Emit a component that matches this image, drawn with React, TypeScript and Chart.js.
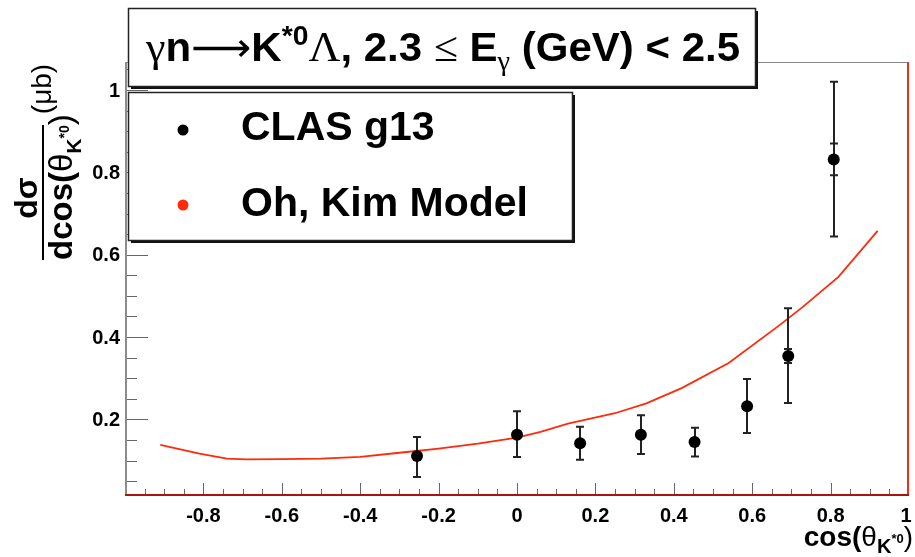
import React, { useEffect, useRef } from "react";
import { Chart, registerables } from "chart.js";

Chart.register(...registerables);

// ---- data ----
const clasX = [-0.255, 0.0, 0.161, 0.316, 0.453, 0.587, 0.692, 0.808];
const clasY = [0.111, 0.163, 0.142, 0.163, 0.145, 0.232, 0.354, 0.831];
const clasErrLow = [0.06, 0.109, 0.102, 0.116, 0.11, 0.167, 0.24, 0.644];
const clasErrHigh = [0.157, 0.22, 0.182, 0.21, 0.18, 0.298, 0.47, 1.02];
const clasStatLow: (number | null)[] = [null, null, null, null, null, null, 0.337, 0.793];
const clasStatHigh: (number | null)[] = [null, null, null, null, null, null, 0.371, 0.87];

const modelX = [-0.91, -0.81, -0.74, -0.69, -0.6, -0.5, -0.4, -0.3, -0.2, -0.1, 0.0, 0.06, 0.13, 0.25, 0.33, 0.42, 0.54, 0.67, 0.73, 0.82, 0.92];
const modelY = [0.138, 0.117, 0.105, 0.103, 0.1035, 0.105, 0.109, 0.119, 0.129, 0.141, 0.156, 0.17, 0.19, 0.215, 0.239, 0.276, 0.337, 0.429, 0.474, 0.546, 0.658];

const xTickValues = [-0.8, -0.6, -0.4, -0.2, 0, 0.2, 0.4, 0.6, 0.8, 1];
const xTickLabels = ["-0.8", "-0.6", "-0.4", "-0.2", "0", "0.2", "0.4", "0.6", "0.8", "1"];
const yTickValues = [0.2, 0.4, 0.6, 0.8, 1];
const yTickLabels = ["0.2", "0.4", "0.6", "0.8", "1"];

const X_MIN = -1;
const X_MAX = 1;
const Y_MIN = 0.014;
const Y_MAX = 1.068;

const SANS = '"Liberation Sans", Arial, Helvetica, sans-serif';
const SERIF = '"Liberation Serif", "DejaVu Serif", serif';
const RED = "#ff2a0a";

type Seg = { t: string; f: string; dy?: number };

function richWidth(ctx: CanvasRenderingContext2D, segs: Seg[]) {
  let w = 0;
  for (const s of segs) {
    ctx.font = s.f;
    w += ctx.measureText(s.t).width;
  }
  return w;
}

function drawRich(
  ctx: CanvasRenderingContext2D,
  segs: Seg[],
  x: number,
  y: number,
  align: "left" | "center" | "right",
  fitWidth?: number
) {
  const w = richWidth(ctx, segs);
  const sx = fitWidth ? fitWidth / w : 1;
  const tw = w * sx;
  const start = align === "center" ? x - tw / 2 : align === "right" ? x - tw : x;
  ctx.save();
  ctx.translate(start, y);
  ctx.scale(sx, 1);
  ctx.textAlign = "left";
  ctx.textBaseline = "alphabetic";
  let cx = 0;
  for (const s of segs) {
    ctx.font = s.f;
    ctx.fillText(s.t, cx, s.dy || 0);
    cx += ctx.measureText(s.t).width;
  }
  ctx.restore();
}

function shadowBox(ctx: CanvasRenderingContext2D, l: number, t: number, r: number, b: number) {
  ctx.fillStyle = "#111";
  ctx.fillRect(l + 3, t + 3, r - l, b - t);
  ctx.fillStyle = "#fff";
  ctx.fillRect(l, t, r - l, b - t);
  ctx.strokeStyle = "#222";
  ctx.lineWidth = 1.5;
  ctx.strokeRect(l + 0.5, t + 0.5, r - l, b - t);
}

const rootStyle = {
  id: "rootStyle",
  beforeDatasetsDraw(chart: any) {
    const { ctx, chartArea: a, scales } = chart;
    const xs = scales.x;
    const ys = scales.y;
    ctx.save();
    ctx.strokeStyle = "#666";
    ctx.lineWidth = 1;
    for (let i = 1; i <= 21; i++) {
      const v = i * 0.05;
      if (v > Y_MAX) break;
      const py = Math.round(ys.getPixelForValue(v)) + 0.5;
      const major = i % 4 === 0;
      ctx.beginPath();
      ctx.moveTo(a.left, py);
      ctx.lineTo(a.left + (major ? 23 : 12), py);
      ctx.stroke();
    }
    for (let i = -19; i <= 19; i++) {
      const v = i * 0.05;
      const px = Math.round(xs.getPixelForValue(v)) + 0.5;
      const major = i % 4 === 0;
      ctx.beginPath();
      ctx.moveTo(px, a.bottom);
      ctx.lineTo(px, a.bottom - (major ? 13 : 7));
      ctx.stroke();
    }
    // frame
    ctx.lineWidth = 1;
    ctx.strokeStyle = "#888";
    ctx.beginPath();
    ctx.moveTo(a.left, a.top + 0.5);
    ctx.lineTo(a.right, a.top + 0.5);
    ctx.stroke();
    ctx.lineWidth = 2;
    ctx.strokeStyle = "#8c8c8c";
    ctx.beginPath();
    ctx.moveTo(a.left + 1, a.top);
    ctx.lineTo(a.left + 1, a.bottom);
    ctx.stroke();
    ctx.strokeStyle = "#e8301a";
    ctx.beginPath();
    ctx.moveTo(a.right - 1, a.top);
    ctx.lineTo(a.right - 1, a.bottom);
    ctx.stroke();
    ctx.strokeStyle = "#b01010";
    ctx.beginPath();
    ctx.moveTo(a.left, a.bottom - 1);
    ctx.lineTo(a.right, a.bottom - 1);
    ctx.stroke();
    ctx.restore();
  },
  beforeDatasetDraw(chart: any, args: any) {
    if (args.index !== 0) return;
    const { ctx, scales } = chart;
    const xs = scales.x;
    const ys = scales.y;
    ctx.save();
    ctx.strokeStyle = "#222";
    ctx.lineWidth = 2;
    const cap = 4;
    for (let i = 0; i < clasX.length; i++) {
      const px = Math.round(xs.getPixelForValue(clasX[i]));
      const lo = ys.getPixelForValue(clasErrLow[i]);
      const hi = ys.getPixelForValue(clasErrHigh[i]);
      ctx.beginPath();
      ctx.moveTo(px, lo);
      ctx.lineTo(px, hi);
      ctx.moveTo(px - cap, lo);
      ctx.lineTo(px + cap, lo);
      ctx.moveTo(px - cap, hi);
      ctx.lineTo(px + cap, hi);
      const sl = clasStatLow[i];
      const sh = clasStatHigh[i];
      if (sl != null && sh != null) {
        const a1 = ys.getPixelForValue(sl);
        const a2 = ys.getPixelForValue(sh);
        ctx.moveTo(px - cap, a1);
        ctx.lineTo(px + cap, a1);
        ctx.moveTo(px - cap, a2);
        ctx.lineTo(px + cap, a2);
      }
      ctx.stroke();
    }
    ctx.restore();
  },
  afterDraw(chart: any) {
    const { ctx, chartArea: a, scales } = chart;
    const xs = scales.x;
    const ys = scales.y;
    ctx.save();
    ctx.fillStyle = "#000";
    // tick labels
    ctx.font = `bold 20px ${SANS}`;
    ctx.textAlign = "right";
    ctx.textBaseline = "middle";
    yTickValues.forEach((v, i) => {
      ctx.fillText(yTickLabels[i], a.left - 5, ys.getPixelForValue(v) + 1);
    });
    ctx.textAlign = "center";
    ctx.textBaseline = "alphabetic";
    xTickValues.forEach((v, i) => {
      let px = xs.getPixelForValue(v);
      if (i === xTickValues.length - 1) px -= 3;
      ctx.fillText(xTickLabels[i], px, a.bottom + 26);
    });

    // x-axis title
    drawRich(
      ctx,
      [
        { t: "cos(", f: `bold 28px ${SANS}` },
        { t: "θ", f: `28px ${SANS}` },
        { t: "K", f: `bold 20px ${SANS}`, dy: 7 },
        { t: "*0", f: `bold 13px ${SANS}`, dy: -3 },
        { t: ")", f: `28px ${SANS}` },
      ],
      913,
      546,
      "right"
    );

    // y-axis title (rotated)
    ctx.save();
    ctx.translate(37, 198);
    ctx.rotate(-Math.PI / 2);
    drawRich(ctx, [{ t: "dσ", f: `bold 32px ${SANS}` }], 0, 0, "center");
    ctx.restore();

    ctx.save();
    ctx.translate(72, 260);
    ctx.rotate(-Math.PI / 2);
    drawRich(
      ctx,
      [
        { t: "dcos(", f: `bold 33px ${SANS}` },
        { t: "θ", f: `33px ${SANS}` },
        { t: "K", f: `bold 21px ${SANS}`, dy: 9 },
        { t: "*0", f: `bold 14px ${SANS}`, dy: -3 },
        { t: ")", f: `33px ${SANS}` },
      ],
      0,
      0,
      "left"
    );
    ctx.restore();

    ctx.save();
    ctx.translate(51, 89);
    ctx.rotate(-Math.PI / 2);
    drawRich(ctx, [{ t: "(μb)", f: `28px ${SANS}` }], 0, 0, "center");
    ctx.restore();

    ctx.fillStyle = "#000";
    ctx.fillRect(42, 125, 2, 135);

    // title box
    shadowBox(ctx, 128, 8, 755, 86);
    ctx.fillStyle = "#000";
    const B = `bold 40px ${SANS}`;
    const R = `42px ${SERIF}`;
    drawRich(
      ctx,
      [
        { t: "γ", f: R },
        { t: "n", f: B },
        { t: "⟶", f: `40px "DejaVu Sans", ${SANS}` },
        { t: "K", f: B },
        { t: "*0", f: `bold 27px ${SANS}`, dy: -16 },
        { t: "Λ", f: R },
        { t: ", 2.3 ", f: B },
        { t: "≤", f: R },
        { t: " E", f: B },
        { t: "γ", f: `27px ${SERIF}`, dy: 9 },
        { t: " (GeV) < 2.5", f: B },
      ],
      443,
      61,
      "center",
      594
    );

    // legend box
    shadowBox(ctx, 128, 92, 572, 240);
    ctx.fillStyle = "#000";
    ctx.beginPath();
    ctx.arc(183, 130, 5.5, 0, Math.PI * 2);
    ctx.fill();
    ctx.fillStyle = RED;
    ctx.beginPath();
    ctx.arc(183, 205, 5.5, 0, Math.PI * 2);
    ctx.fill();
    ctx.fillStyle = "#000";
    ctx.font = `bold 41px ${SANS}`;
    ctx.textAlign = "left";
    ctx.textBaseline = "alphabetic";
    ctx.fillText("CLAS g13", 241, 140);
    ctx.fillText("Oh, Kim Model", 241, 216);
    ctx.restore();
  },
};

export default function App() {
  const ref = useRef<HTMLCanvasElement | null>(null);
  useEffect(() => {
    if (!ref.current) return;
    const chart = new Chart(ref.current, {
      type: "scatter",
      data: {
        datasets: [
          {
            label: "CLAS g13",
            data: clasX.map((x, i) => ({ x, y: clasY[i] })),
            backgroundColor: "#000",
            borderColor: "#000",
            borderWidth: 0,
            pointRadius: 6,
            showLine: false,
          },
          {
            label: "Oh, Kim Model",
            type: "line",
            data: modelX.map((x, i) => ({ x, y: modelY[i] })),
            borderColor: RED,
            borderWidth: 1.8,
            pointRadius: 0,
            tension: 0,
            fill: false,
          } as any,
        ],
      },
      options: {
        responsive: false,
        animation: false,
        devicePixelRatio: 1,
        layout: { padding: { left: 125, right: 3, top: 62, bottom: 61 } },
        plugins: { legend: { display: false }, tooltip: { enabled: false }, title: { display: false } },
        scales: {
          x: { type: "linear", min: X_MIN, max: X_MAX, display: false },
          y: { type: "linear", min: Y_MIN, max: Y_MAX, display: false },
        },
      },
      plugins: [rootStyle],
    });
    return () => chart.destroy();
  }, []);
  return (
    <div style={{ position: "absolute", left: 0, top: 0, width: 915, height: 557, background: "#fff" }}>
      <canvas ref={ref} width={915} height={557} style={{ display: "block" }} />
    </div>
  );
}
